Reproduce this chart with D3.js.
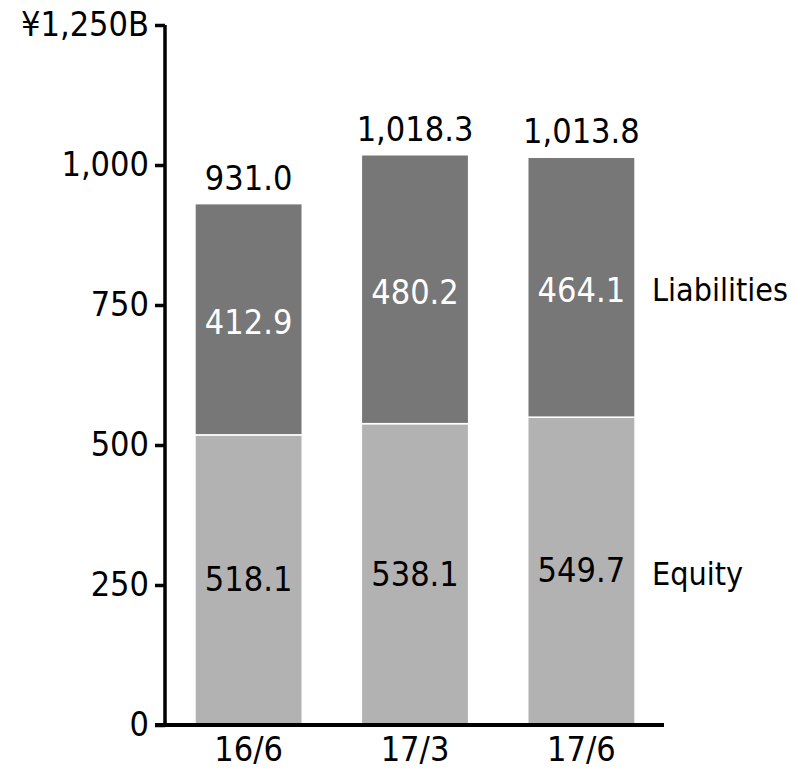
<!DOCTYPE html>
<html><head><meta charset="utf-8">
<script src="https://cdn.jsdelivr.net/npm/d3@7"></script>
<style>body{margin:0;background:#fff}svg text{font-family:"DejaVu Sans Condensed","DejaVu Sans",sans-serif}</style>
</head><body><svg id="c" width="796" height="770"></svg>
<script>
const categories = ["16/6", "17/3", "17/6"];
const equity = [518.1, 538.1, 549.7];
const liabilities = [412.9, 480.2, 464.1];
const totals = [931.0, 1018.3, 1013.8];
const yTicks = [0, 250, 500, 750, 1000, 1250];
const yTickLabels = ["0", "250", "500", "750", "1,000", "¥1,250B"];
const seriesNames = ["Equity", "Liabilities"];

const svg = d3.select("#c");
const fs = 34;
const ff = '"DejaVu Sans Condensed","DejaVu Sans",sans-serif';
const y = d3.scaleLinear().domain([0, 1250]).range([725, 25]);
const x = d3.scaleBand().domain(categories).range([165, 665]).paddingInner(0.355).paddingOuter(0.18);
const fmt = d3.format(",.1f");

const data = categories.map((c, i) => ({c, eq: equity[i], li: liabilities[i], tot: totals[i]}));

svg.selectAll(".eq").data(data).join("rect")
  .attr("x", d => x(d.c)).attr("width", x.bandwidth())
  .attr("y", d => y(d.eq)).attr("height", d => y(0) - y(d.eq))
  .attr("fill", "#b2b2b2").attr("stroke", "#fff").attr("stroke-width", 1.5);
svg.selectAll(".li").data(data).join("rect")
  .attr("x", d => x(d.c)).attr("width", x.bandwidth())
  .attr("y", d => y(d.eq + d.li)).attr("height", d => y(d.eq) - y(d.eq + d.li))
  .attr("fill", "#777777").attr("stroke", "#fff").attr("stroke-width", 1.5);

const yAxis = d3.axisLeft(y).tickValues(yTicks).tickFormat((d, i) => yTickLabels[i]).tickSize(10).tickPadding(6).tickSizeOuter(0);
const gy = svg.append("g").attr("transform", "translate(165,0)").call(yAxis);
gy.select(".domain").attr("stroke", "#000").attr("stroke-width", 3.5).attr("d", `M0,${y(1250)}V${y(0)+2}`);
gy.selectAll(".tick line").attr("stroke", "#000").attr("stroke-width", 3.5);
gy.selectAll(".tick text").attr("font-size", fs).attr("fill", "#000").attr("font-family", ff);

const xAxis = d3.axisBottom(x).tickSize(0).tickPadding(12);
const gx = svg.append("g").attr("transform", `translate(0,${y(0)})`).call(xAxis);
gx.select(".domain").attr("d", "M155,0H664").attr("stroke", "#000").attr("stroke-width", 4);
gx.selectAll(".tick text").attr("font-size", fs).attr("fill", "#000").attr("font-family", ff);

const cx = d => x(d.c) + x.bandwidth() / 2;
svg.selectAll(".tl").data(data).join("text")
  .attr("x", cx).attr("y", d => y(d.tot) - 14)
  .attr("text-anchor", "middle").attr("font-size", fs).attr("fill", "#000")
  .text(d => fmt(d.tot));
svg.selectAll(".ll").data(data).join("text")
  .attr("x", cx).attr("y", d => (y(d.eq) + y(d.eq + d.li)) / 2 + 3).attr("dy", "0.36em")
  .attr("text-anchor", "middle").attr("font-size", fs).attr("fill", "#fff")
  .text(d => fmt(d.li));
svg.selectAll(".el").data(data).join("text")
  .attr("x", cx).attr("y", d => (y(0) + y(d.eq)) / 2 - 1).attr("dy", "0.36em")
  .attr("text-anchor", "middle").attr("font-size", fs).attr("fill", "#000")
  .text(d => fmt(d.eq));

const last = data[data.length - 1];
const lx = x(last.c) + x.bandwidth() + 17;
svg.append("text").attr("x", lx).attr("y", (y(last.eq) + y(last.eq + last.li)) / 2 + 2).attr("dy", "0.36em")
  .attr("font-size", 32).attr("fill", "#000").text(seriesNames[1]);
svg.append("text").attr("x", lx).attr("y", (y(0) + y(last.eq)) / 2 + 2).attr("dy", "0.36em")
  .attr("font-size", 32).attr("fill", "#000").text(seriesNames[0]);
</script></body></html>
